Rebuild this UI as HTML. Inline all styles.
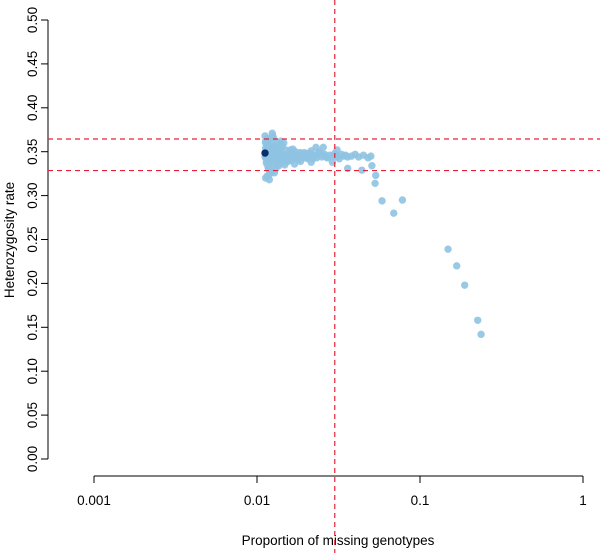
<!DOCTYPE html>
<html><head><meta charset="utf-8">
<style>
body{margin:0;background:#fff;}
svg{display:block;font-family:"Liberation Sans",Arial,sans-serif;}
</style></head>
<body>
<svg id="chart" width="600" height="553" viewBox="0 0 600 553" xmlns="http://www.w3.org/2000/svg">
<g id="axes"></g>
<g id="points"></g>
<g id="refs"></g>
</svg>
<script>
const xTicks=[0.001,0.01,0.1,1];
const xTickLabels=["0.001","0.01","0.1","1"];
const yTicks=[0,0.05,0.1,0.15,0.2,0.25,0.3,0.35,0.4,0.45,0.5];
const yTickLabels=["0.00","0.05","0.10","0.15","0.20","0.25","0.30","0.35","0.40","0.45","0.50"];
const missing=[0.0112,0.0113,0.0115,0.0118,0.0112,0.0114,0.0117,0.0120,0.0113,0.0116,0.0119,0.0122,0.0114,0.0118,0.0121,0.0125,0.0115,0.0119,0.0124,0.0113,0.0117,0.0121,0.0126,0.0130,0.0135,0.0128,0.0133,0.0140,0.0145,0.0138,0.0150,0.0155,0.0160,0.0148,0.0165,0.0170,0.0158,0.0175,0.0180,0.0190,0.0185,0.0200,0.0210,0.0195,0.0220,0.0230,0.0215,0.0240,0.0250,0.0260,0.0270,0.0255,0.0280,0.0290,0.0300,0.0310,0.0320,0.0330,0.0340,0.0350,0.0360,0.0380,0.0400,0.0420,0.0450,0.0480,0.0500,0.0507,0.0535,0.0530,0.0440,0.0360,0.0585,0.069,0.078,0.1486,0.168,0.188,0.226,0.237,0.0125,0.0130,0.0140,0.0170,0.0230,0.0290,0.0310,
0.0113,0.0114,0.0116,0.0118,0.0120,0.0122,0.0124,0.0126,0.0128,0.0130,0.0132,0.0134,0.0136,0.0138,0.0140,0.0143,0.0146,0.0150,0.0154,0.0158,0.0162,0.0166,0.0172,0.0178,0.0184,0.0190,0.0198,0.0205,0.0213,0.0222,0.0232,0.0243,0.0255,0.0268,0.0113,0.0115,0.0117,0.0119,0.0121,0.0123,0.0125,0.0127,0.0129,0.0132,0.0135,0.0138,0.0142,0.0146,0.0150,0.0155,0.0160,0.0166,0.0172,0.0180,0.0188,0.0196,0.0205,0.0215];
const het=[0.368,0.362,0.356,0.350,0.344,0.338,0.332,0.326,0.320,0.365,0.358,0.352,0.346,0.340,0.334,0.328,0.322,0.318,0.371,0.360,0.354,0.348,0.342,0.336,0.345,0.353,0.339,0.349,0.343,0.357,0.346,0.340,0.350,0.335,0.344,0.348,0.341,0.346,0.343,0.347,0.339,0.345,0.344,0.349,0.342,0.346,0.338,0.350,0.344,0.347,0.343,0.355,0.346,0.345,0.348,0.344,0.342,0.347,0.345,0.346,0.344,0.345,0.347,0.344,0.346,0.343,0.345,0.334,0.323,0.314,0.329,0.331,0.294,0.280,0.295,0.239,0.220,0.198,0.158,0.142,0.360,0.330,0.362,0.336,0.355,0.338,0.352,
0.354,0.342,0.364,0.330,0.358,0.338,0.348,0.366,0.326,0.352,0.340,0.360,0.334,0.350,0.344,0.356,0.338,0.352,0.342,0.348,0.340,0.353,0.345,0.341,0.349,0.344,0.347,0.342,0.348,0.345,0.343,0.349,0.346,0.344,0.346,0.336,0.358,0.324,0.350,0.344,0.368,0.340,0.356,0.346,0.336,0.352,0.342,0.360,0.346,0.339,0.352,0.344,0.350,0.341,0.347,0.343,0.348,0.351];
const darkPoint=[0.0112,0.3485];
const vLine=0.03, hLines=[0.3645,0.3285];

const x=v=>94+163*(Math.log10(v)+3);
const y=v=>459-878*v;
const NS="http://www.w3.org/2000/svg";
function mk(t,a,p){const e=document.createElementNS(NS,t);for(const k in a)e.setAttribute(k,a[k]);p.appendChild(e);return e;}
const ax=document.getElementById('axes');
let e=mk('line',{x1:x(0.001),x2:x(1),y1:476,y2:476,stroke:'#000'},ax);


xTicks.forEach((t,i)=>{
  const l=mk('line',{x1:x(t),x2:x(t),y1:476,y2:483,stroke:'#000'},ax);
  
  
  const tx=mk('text',{x:x(t),y:505,'text-anchor':'middle','font-size':13.5},ax);
  tx.textContent=xTickLabels[i];
  
  
});
e=mk('line',{x1:48,x2:48,y1:y(0),y2:y(0.5),stroke:'#000'},ax);


yTicks.forEach((t,i)=>{
  const l=mk('line',{x1:41,x2:48,y1:y(t),y2:y(t),stroke:'#000'},ax);
  
  
  const tx=mk('text',{x:0,y:0,'text-anchor':'middle','font-size':13.5,transform:`translate(37,${y(t)}) rotate(-90)`},ax);
  tx.textContent=yTickLabels[i];
  
  
});
e=mk('text',{x:338,y:545,'text-anchor':'middle','font-size':13.5},ax);
e.textContent='Proportion of missing genotypes';


e=mk('text',{x:0,y:0,'text-anchor':'middle','font-size':13.5,transform:'translate(14,240) rotate(-90)'},ax);
e.textContent='Heterozygosity rate';



const pg=document.getElementById('points');
missing.forEach((m,i)=>{
  const c=mk('circle',{cx:x(m),cy:y(het[i]),r:3.7,fill:'#8fc3e2','fill-opacity':0.9},pg);
  
  
});
e=mk('circle',{cx:x(darkPoint[0]),cy:y(darkPoint[1]),r:3.7,fill:'#08306b'},pg);



const rg=document.getElementById('refs');
e=mk('line',{x1:x(vLine),x2:x(vLine),y1:0,y2:553,stroke:'#e8203a','stroke-dasharray':'5,4','stroke-width':1.2},rg);


hLines.forEach(h=>{
  const l=mk('line',{x1:48,x2:600,y1:y(h),y2:y(h),stroke:'#e8203a','stroke-dasharray':'5,4','stroke-width':1.2},rg);
  
  
});
</script>
</body></html>
